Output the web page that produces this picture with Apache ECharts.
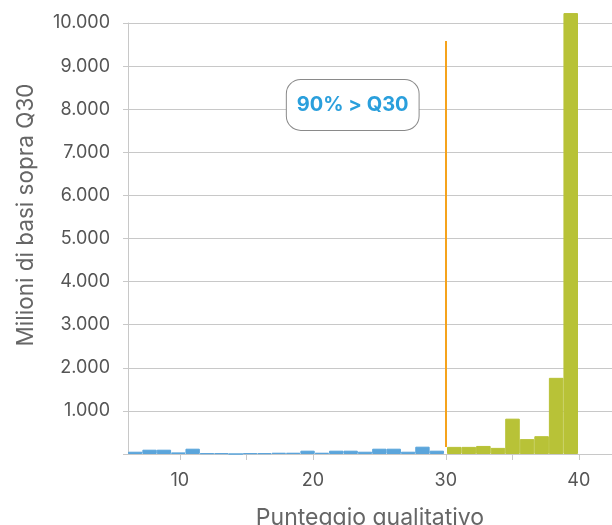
<!DOCTYPE html>
<html>
<head>
<meta charset="utf-8">
<script src="https://cdn.jsdelivr.net/npm/echarts@6/dist/echarts.min.js"></script>
<style>
  html, body { margin: 0; background: #fff; }
  #main { width: 612px; height: 525px; }
</style>
</head>
<body>
<div id="main"></div>
<script>
// bars below Q30 (blue) and from Q30 upwards (green), millions of bases
var blueValues = [53, 100, 100, 37, 123, 18, 18, 0, 18, 18, 30, 30, 77, 30, 77, 77, 53, 123, 123, 53, 170, 77];
var greenValues = [165, 165, 187, 142, 820, 345, 413, 1767, 10230];
var xTickValues = [10, 15, 20, 30, 35, 40];
var xLabelValues = [10, 20, 30, 40];
var q30Line = { x: 30, from: 165, to: 9580 };
var note = { text: '90% > Q30', x: 23, y: 8100 };

var chart = echarts.init(document.getElementById('main'));
var font = 'Inter';
var axisGray = '#c8c8c8';
var blue = '#5ba5db';
var green = '#b8c237';

function fmt(v) {
    if (v === 0) return '';
    return String(v).replace(/\B(?=(\d{3})+(?!\d))/g, '.');
}

function hiddenY(i) {
    return { gridIndex: i, type: 'value', min: 0, max: 10000, show: false };
}

chart.setOption({
    animation: false,
    textStyle: { fontFamily: font },
    grid: [
        { left: 128, width: 316, top: 23, bottom: 71, outerBoundsMode: 'none' },
        { left: 447, width: 131, top: 23, bottom: 71, outerBoundsMode: 'none' },
        { left: 128, right: 0, top: 23, bottom: 71, outerBoundsMode: 'none' }
    ],
    xAxis: [
        { gridIndex: 0, type: 'category', data: blueValues.map(function (v, i) { return i; }), show: false },
        { gridIndex: 1, type: 'category', data: greenValues.map(function (v, i) { return i; }), show: false },
        {
            gridIndex: 2,
            type: 'value',
            min: 6.1,
            max: 42.5,
            axisLine: { lineStyle: { color: axisGray, width: 1 } },
            axisTick: { customValues: xTickValues, length: 6, lineStyle: { color: axisGray } },
            axisLabel: { customValues: xLabelValues, fontSize: 18, color: '#555', margin: 18, fontFamily: font },
            splitLine: { show: false },
            name: 'Punteggio qualitativo',
            nameLocation: 'middle',
            nameGap: 53,
            nameTextStyle: { fontSize: 23, color: '#666', fontFamily: font }
        }
    ],
    yAxis: [
        hiddenY(0),
        hiddenY(1),
        {
            gridIndex: 2,
            type: 'value',
            min: 0,
            max: 10000,
            interval: 1000,
            axisLine: { show: true, lineStyle: { color: axisGray } },
            axisTick: { show: true, length: 5, lineStyle: { color: axisGray } },
            axisLabel: { formatter: fmt, fontSize: 18, color: '#555', margin: 18, fontFamily: font },
            splitLine: { lineStyle: { color: '#c8c8c8' } }
        }
    ],
    graphic: [{
        type: 'text',
        x: 26,
        y: 215,
        rotation: Math.PI / 2,
        style: {
            text: 'Milioni di basi sopra Q30',
            fontSize: 22.5,
            fontFamily: font,
            fill: '#666',
            align: 'center',
            verticalAlign: 'middle'
        }
    }],
    series: [
        {
            type: 'bar',
            xAxisIndex: 0,
            yAxisIndex: 0,
            data: blueValues,
            barCategoryGap: 0,
            itemStyle: { color: blue, borderColor: blue, borderWidth: 1 }
        },
        {
            type: 'bar',
            xAxisIndex: 1,
            yAxisIndex: 1,
            data: greenValues,
            barCategoryGap: 0,
            clip: false,
            itemStyle: { color: green, borderColor: green, borderWidth: 1 }
        },
        {
            type: 'line',
            xAxisIndex: 2,
            yAxisIndex: 2,
            data: [[q30Line.x, 0]],
            symbol: 'none',
            lineStyle: { opacity: 0 },
            silent: true,
            z: 5,
            markLine: {
                silent: true,
                symbol: 'none',
                label: { show: false },
                lineStyle: { color: '#f5a31c', width: 2, type: 'solid' },
                data: [[
                    { coord: [q30Line.x, q30Line.to] },
                    { coord: [q30Line.x, q30Line.from] }
                ]]
            },
            markPoint: {
                silent: true,
                symbolSize: 0,
                label: {
                    show: true,
                    position: 'inside',
                    formatter: note.text,
                    color: '#2a9fdc',
                    fontWeight: 'bold',
                    fontSize: 20,
                    fontFamily: font,
                    backgroundColor: '#fff',
                    borderColor: '#8a8a8a',
                    borderWidth: 1,
                    borderRadius: 14,
                    padding: [15, 10]
                },
                data: [{ coord: [note.x, note.y] }]
            }
        }
    ]
});
</script>
</body>
</html>
